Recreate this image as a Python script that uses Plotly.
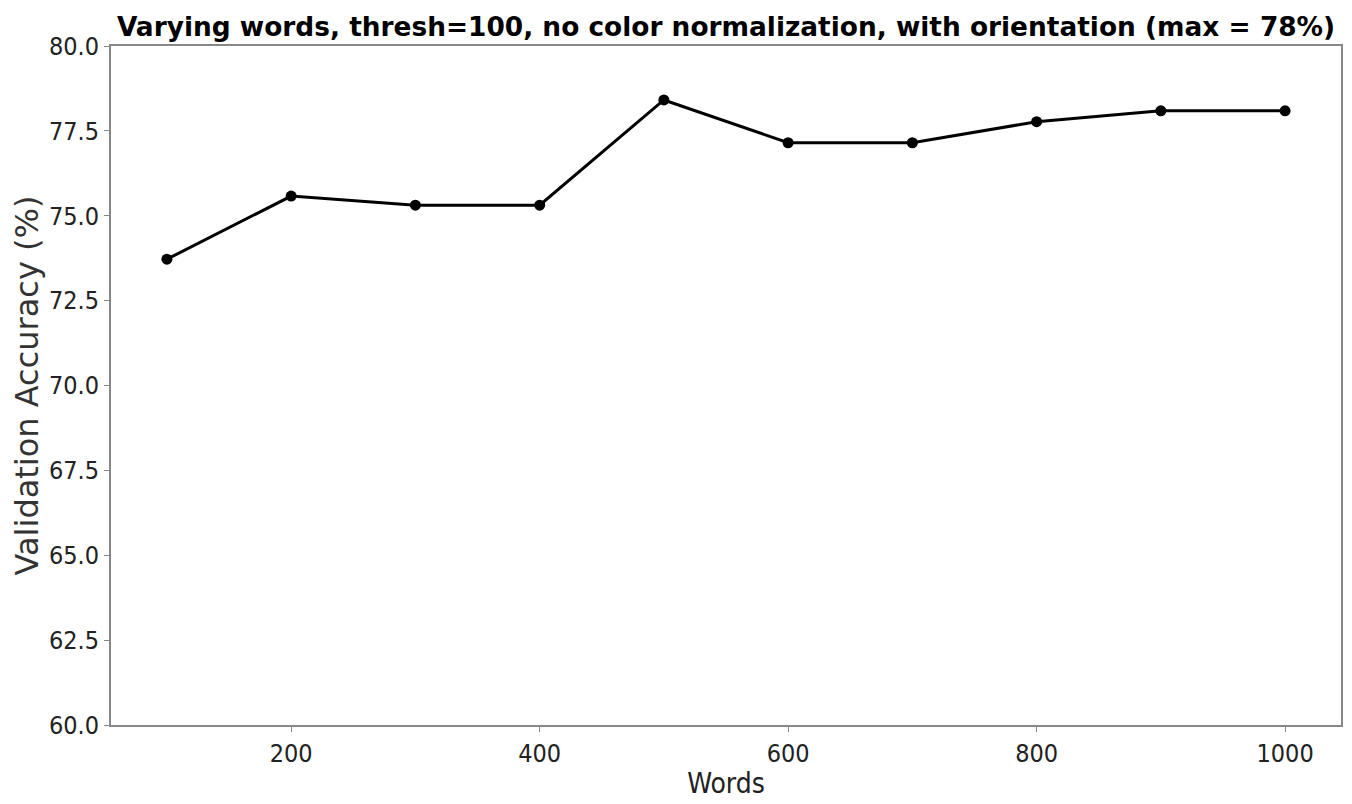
import plotly.graph_objects as go

words = [100, 200, 300, 400, 500, 600, 700, 800, 900, 1000]
accuracy = [73.72, 75.58, 75.31, 75.31, 78.41, 77.15, 77.15, 77.77, 78.09, 78.09]
y_ticks = [60.0, 62.5, 65.0, 67.5, 70.0, 72.5, 75.0, 77.5, 80.0]
x_ticks = [200, 400, 600, 800, 1000]

title_text = "Varying words, thresh=100, no color normalization, with orientation (max = 78%)"

cond = "DejaVu Sans Condensed, DejaVu Sans, sans-serif"
tick_font = dict(family=cond, size=25, color="#222")

fig = go.Figure()
fig.add_trace(go.Scatter(
    x=words, y=accuracy, mode="lines+markers",
    line=dict(color="black", width=3),
    marker=dict(color="black", size=11),
    showlegend=False,
))

fig.update_layout(
    width=1352, height=804,
    paper_bgcolor="white", plot_bgcolor="white",
    margin=dict(l=103, r=19, t=38, b=87, autoexpand=False),
    title=dict(text="<b>" + title_text + "</b>",
               font=dict(family="DejaVu Sans, sans-serif", size=26.4, color="black"),
               x=0.5, xref="paper", xanchor="center",
               y=1, yref="paper", yanchor="bottom", pad=dict(b=10)),
)
fig.update_xaxes(
    range=[55, 1045], tickvals=x_ticks, ticktext=[str(v) for v in x_ticks],
    showgrid=False, zeroline=False,
    showline=True, linecolor="#888", linewidth=2, mirror=True,
    ticks="outside", ticklen=5, tickcolor="#888", tickwidth=1,
    tickfont=tick_font, automargin=False,
    title=dict(text="Words", font=dict(family=cond, size=28, color="#222"), standoff=6),
)
fig.update_yaxes(
    range=[60, 80], tickvals=y_ticks, ticktext=[f"{v:.1f}" for v in y_ticks],
    showgrid=False, zeroline=False,
    showline=True, linecolor="#888", linewidth=2, mirror=True,
    ticks="outside", ticklen=5, tickcolor="#888", tickwidth=1,
    tickfont=tick_font, automargin=False,
    title=dict(text="Validation Accuracy (%)", font=dict(family="DejaVu Sans, sans-serif", size=32, color="#333"), standoff=2),
)

fig.write_html("out.html")
